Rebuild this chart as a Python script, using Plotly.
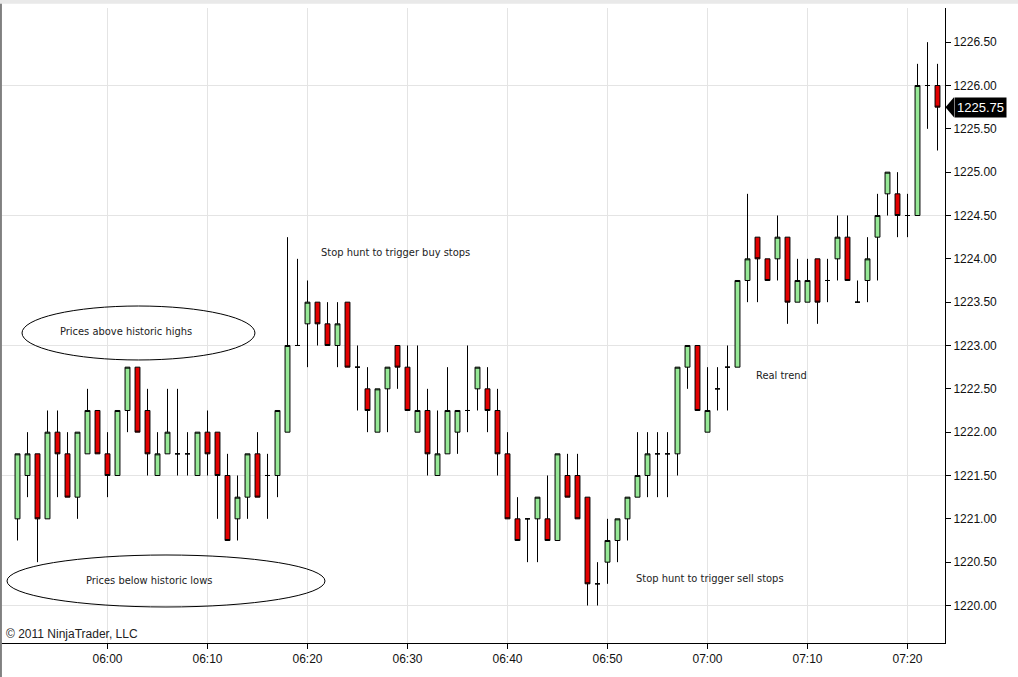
import plotly.graph_objects as go

# ---------------- data ----------------
times = ["05:51", "05:52", "05:53", "05:54", "05:55", "05:56", "05:57", "05:58", "05:59",
         "06:00", "06:01", "06:02", "06:03", "06:04", "06:05", "06:06", "06:07", "06:08", "06:09",
         "06:10", "06:11", "06:12", "06:13", "06:14", "06:15", "06:16", "06:17", "06:18", "06:19",
         "06:20", "06:21", "06:22", "06:23", "06:24", "06:25", "06:26", "06:27", "06:28", "06:29",
         "06:30", "06:31", "06:32", "06:33", "06:34", "06:35", "06:36", "06:37", "06:38", "06:39",
         "06:40", "06:41", "06:42", "06:43", "06:44", "06:45", "06:46", "06:47", "06:48", "06:49",
         "06:50", "06:51", "06:52", "06:53", "06:54", "06:55", "06:56", "06:57", "06:58", "06:59",
         "07:00", "07:01", "07:02", "07:03", "07:04", "07:05", "07:06", "07:07", "07:08", "07:09",
         "07:10", "07:11", "07:12", "07:13", "07:14", "07:15", "07:16", "07:17", "07:18", "07:19",
         "07:20", "07:21", "07:22", "07:23"]

opens = [1221.00, 1221.50, 1221.75, 1221.00, 1222.00, 1221.75, 1221.25, 1221.75, 1222.25,
         1221.75, 1221.50, 1222.25, 1222.75, 1222.25, 1221.50, 1221.75, 1221.75, 1221.75, 1221.50,
         1222.00, 1222.00, 1221.50, 1221.00, 1221.25, 1221.75, 1221.50, 1221.50, 1222.00, 1223.00,
         1223.25, 1223.50, 1223.25, 1223.00, 1223.50, 1222.75, 1222.50, 1222.00, 1222.50, 1223.00,
         1222.75, 1222.00, 1222.25, 1221.50, 1221.75, 1222.00, 1222.25, 1222.50, 1222.50, 1222.25,
         1221.75, 1221.00, 1221.00, 1221.00, 1221.00, 1220.75, 1221.50, 1221.50, 1221.25, 1220.25,
         1220.50, 1220.75, 1221.00, 1221.25, 1221.50, 1221.75, 1221.75, 1221.75, 1222.75, 1223.00,
         1222.00, 1222.50, 1222.75, 1222.75, 1223.75, 1224.25, 1224.00, 1224.00, 1224.25, 1223.50,
         1223.50, 1224.00, 1223.75, 1224.00, 1224.25, 1223.50, 1223.75, 1224.25, 1224.75, 1224.75,
         1224.50, 1224.50, 1226.00, 1226.00]

highs = [1221.75, 1222.00, 1221.75, 1222.25, 1222.25, 1222.00, 1222.00, 1222.50, 1222.25,
         1222.00, 1222.25, 1222.75, 1222.75, 1222.50, 1222.00, 1222.50, 1222.50, 1222.00, 1222.00,
         1222.25, 1222.00, 1221.75, 1221.50, 1221.75, 1222.00, 1221.75, 1222.25, 1224.25, 1224.00,
         1223.75, 1223.50, 1223.50, 1223.50, 1223.50, 1223.00, 1222.75, 1222.50, 1222.75, 1223.00,
         1223.00, 1223.00, 1222.50, 1222.25, 1222.75, 1222.25, 1223.00, 1222.75, 1222.75, 1222.50,
         1222.00, 1221.25, 1221.00, 1221.25, 1221.50, 1221.75, 1221.75, 1221.75, 1221.25, 1220.50,
         1221.00, 1221.00, 1221.25, 1222.00, 1222.00, 1222.00, 1222.00, 1222.75, 1223.00, 1223.00,
         1222.75, 1222.75, 1223.00, 1223.75, 1224.75, 1224.25, 1224.00, 1224.50, 1224.25, 1224.00,
         1224.00, 1224.00, 1224.00, 1224.50, 1224.50, 1223.75, 1224.25, 1224.75, 1225.00, 1225.00,
         1224.75, 1226.25, 1226.50, 1226.25]

lows = [1220.75, 1221.25, 1220.50, 1221.00, 1221.25, 1221.25, 1221.00, 1221.75, 1221.75,
        1221.25, 1221.50, 1222.00, 1222.00, 1221.50, 1221.50, 1221.75, 1221.50, 1221.50, 1221.50,
        1221.50, 1221.00, 1220.75, 1220.75, 1221.00, 1221.25, 1221.00, 1221.25, 1222.00, 1223.00,
        1222.75, 1223.00, 1223.00, 1222.75, 1222.75, 1222.25, 1222.00, 1222.00, 1222.00, 1222.50,
        1222.25, 1222.00, 1221.50, 1221.50, 1221.75, 1221.75, 1222.00, 1222.25, 1222.00, 1221.50,
        1221.00, 1220.75, 1220.50, 1220.50, 1220.75, 1220.75, 1221.25, 1221.00, 1220.00, 1220.00,
        1220.25, 1220.50, 1220.75, 1221.25, 1221.25, 1221.25, 1221.25, 1221.50, 1222.50, 1222.25,
        1222.00, 1222.25, 1222.25, 1222.75, 1223.50, 1223.50, 1223.75, 1223.75, 1223.25, 1223.50,
        1223.50, 1223.25, 1223.50, 1223.75, 1223.75, 1223.50, 1223.50, 1223.75, 1224.50, 1224.25,
        1224.25, 1224.50, 1225.50, 1225.25]

closes = [1221.75, 1221.75, 1221.00, 1222.00, 1221.75, 1221.25, 1222.00, 1222.25, 1221.75,
          1221.50, 1222.25, 1222.75, 1222.00, 1221.75, 1221.75, 1222.00, 1221.75, 1221.75, 1222.00,
          1221.75, 1221.50, 1220.75, 1221.25, 1221.75, 1221.25, 1221.50, 1222.25, 1223.00, 1223.00,
          1223.50, 1223.25, 1223.00, 1223.25, 1222.75, 1222.75, 1222.25, 1222.50, 1222.75, 1222.75,
          1222.25, 1222.25, 1221.75, 1221.75, 1222.25, 1222.25, 1222.25, 1222.75, 1222.25, 1221.75,
          1221.00, 1220.75, 1221.00, 1221.25, 1220.75, 1221.75, 1221.25, 1221.00, 1220.25, 1220.25,
          1220.75, 1221.00, 1221.25, 1221.50, 1221.75, 1221.75, 1221.75, 1222.75, 1223.00, 1222.25,
          1222.25, 1222.50, 1222.75, 1223.75, 1224.00, 1224.00, 1223.75, 1224.25, 1223.50, 1223.75,
          1223.75, 1223.50, 1223.75, 1224.25, 1223.75, 1223.50, 1224.00, 1224.50, 1225.00, 1224.50,
          1224.50, 1226.00, 1226.00, 1225.75]

tick_times = ["06:00", "06:10", "06:20", "06:30", "06:40", "06:50", "07:00", "07:10", "07:20"]
grid_levels = [1220.0, 1221.5, 1223.0, 1224.5, 1226.0]

notes = [
    ("Prices above historic highs", 0.1333, 0.4913),
    ("Prices below historic lows", 0.1577, 0.0992),
    ("Stop hunt to trigger buy stops", 0.4180, 0.6142),
    ("Real trend", 0.8265, 0.4205),
    ("Stop hunt to trigger sell stops", 0.7513, 0.1008),
]

# ---------------- styling ----------------
DAY = "2011-01-03 "
GREEN = "#96e896"
RED = "#e30000"
GRID = "#e4e4e4"
Y_RANGE = [1219.5672, 1226.8942]
NOTE_FONT = dict(family="Liberation Sans Narrow, Arial Narrow, DejaVu Sans Condensed, Arial, sans-serif",
                 size=11, color="#222222")
AXIS_FONT = dict(family="Arial, Liberation Sans, sans-serif", size=12, color="#111111")

x = [DAY + t for t in times]

fig = go.Figure(go.Candlestick(
    x=x, open=opens, high=highs, low=lows, close=closes,
    increasing=dict(fillcolor=GREEN, line=dict(color="black", width=1)),
    decreasing=dict(fillcolor=RED, line=dict(color="black", width=1)),
    whiskerwidth=0, showlegend=False, hoverinfo="skip",
))

def to_paper(v):
    return (v - Y_RANGE[0]) / (Y_RANGE[1] - Y_RANGE[0])

shapes = []
for g in grid_levels:
    shapes.append(dict(type="line", xref="paper", yref="y", x0=0, x1=1, y0=g, y1=g,
                       line=dict(color=GRID, width=1), layer="below"))
# ellipses around notes
shapes.append(dict(type="circle", xref="paper", yref="paper", x0=0.0233, x1=0.2698,
                   y0=0.4457, y1=0.5307, line=dict(color="black", width=1)))
shapes.append(dict(type="circle", xref="paper", yref="paper", x0=0.0074, x1=0.3439,
                   y0=0.0567, y1=0.1386, line=dict(color="black", width=1)))
# window frame bits
shapes.append(dict(type="line", xref="paper", yref="paper", x0=0.001, x1=0.001, y0=-0.06, y1=1.02,
                   line=dict(color="#808080", width=2)))
shapes.append(dict(type="rect", xref="paper", yref="paper", x0=0, x1=1.08, y0=1.0065, y1=1.02,
                   fillcolor="#e9e9e9", line=dict(width=0)))
# last price tag pointer
last = closes[-1]
py = to_paper(last)
hp = 10 / 635
shapes.append(dict(type="path", xref="paper", yref="paper",
                   path=f"M 1.0005,{py} L 1.0095,{py + hp} L 1.0095,{py - hp} Z",
                   fillcolor="black", line=dict(width=0)))

annotations = []
for text, ax, ay in notes:
    annotations.append(dict(text=text, x=ax, y=ay, xref="paper", yref="paper",
                            showarrow=False, xanchor="center", yanchor="middle", font=NOTE_FONT))
annotations.append(dict(text="© 2011 NinjaTrader, LLC", x=0.004, y=0.0142, xref="paper", yref="paper",
                        showarrow=False, xanchor="left", yanchor="middle",
                        font=dict(family="Arial, Liberation Sans, sans-serif", size=12, color="#222222")))
annotations.append(dict(text=f"{last:.2f}", x=1.0095, y=py, xref="paper", yref="paper",
                        showarrow=False, xanchor="left", yanchor="middle", bgcolor="black",
                        borderpad=2, font=dict(family="Arial, Liberation Sans, sans-serif",
                                               size=13, color="white")))

fig.update_layout(
    width=1018, height=677,
    margin=dict(l=0, r=73, t=8, b=34),
    paper_bgcolor="white", plot_bgcolor="white",
    shapes=shapes, annotations=annotations,
    hovermode=False,
    xaxis=dict(
        type="date", range=[DAY + "05:49:15", DAY + "07:23:45"],
        tickvals=[DAY + t for t in tick_times], ticktext=tick_times,
        showgrid=True, gridcolor=GRID, gridwidth=1,
        ticks="outside", ticklen=5, tickcolor="black",
        showline=True, linecolor="black", linewidth=1,
        rangeslider=dict(visible=False), tickfont=AXIS_FONT,
    ),
    yaxis=dict(
        side="right", range=Y_RANGE, tick0=1220, dtick=0.5, tickformat=".2f",
        showgrid=False, zeroline=False,
        ticks="outside", ticklen=5, tickcolor="black",
        showline=True, linecolor="black", linewidth=1, tickfont=AXIS_FONT,
    ),
)

fig.write_html("out.html", config={"displayModeBar": False},
               post_script="document.body.style.margin='0';document.body.style.overflow='hidden';")
